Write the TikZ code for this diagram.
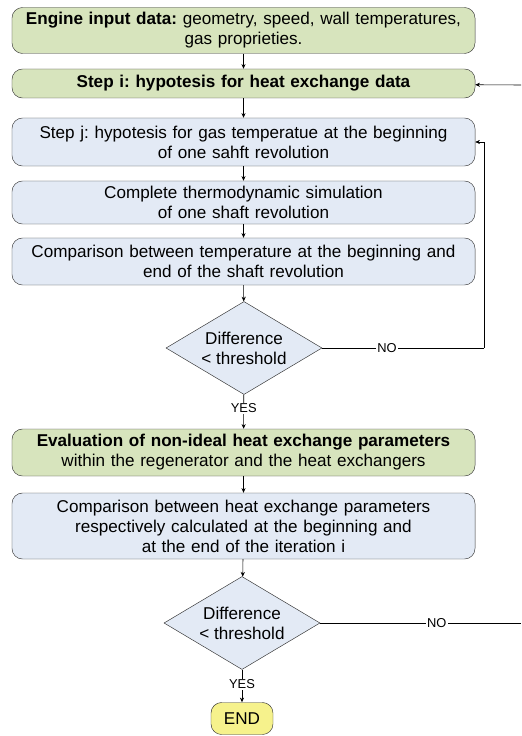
\documentclass[tikz,border=0pt]{standalone}
\usepackage{fontspec}
\setmainfont{Liberation Sans}
\usetikzlibrary{shapes.geometric,arrows.meta}
\definecolor{boxgreen}{HTML}{D7E4BD}
\definecolor{boxblue}{HTML}{E3EAF5}
\definecolor{boxyellow}{HTML}{F6F28C}
\definecolor{boxline}{HTML}{333333}
\frenchspacing

\begin{document}
\begin{tikzpicture}[x=0.03cm,y=-0.03cm,
    font=\fontsize{14.6}{17}\selectfont,
    block/.style={draw=boxline,rounded corners=9pt,align=center,text width=13.6cm,
                  minimum width=13.89cm,inner sep=1pt},
    greenbox/.style={block,fill=boxgreen},
    bluebox/.style={block,fill=boxblue},
    decision/.style={draw=boxline,diamond,fill=boxblue,align=center,inner sep=0pt,
                     aspect=1.68,minimum width=4.68cm,minimum height=2.79cm},
    endbox/.style={draw=boxline,rounded corners=9pt,fill=boxyellow,
                   minimum width=1.86cm,minimum height=0.96cm},
    tag/.style={font=\fontsize{11}{13}\selectfont,fill=white,inner sep=1pt},
    line/.style={draw=black,line width=0.5pt},
    arrow/.style={line,-{Stealth[length=4pt,width=3.5pt]}}]
  %\draw[help lines] (0,0) grid (521,736);
  \useasboundingbox (0,0) rectangle (521,736);
  \node[greenbox,minimum height=1.38cm] (input) at (243.5,30.5)
    {\textbf{Engine input data:} geometry, speed, wall temperatures,\\ gas proprieties.};
  \node[greenbox,minimum height=0.87cm] (stepi) at (243.5,83.5)
    {\textbf{Step i: hypotesis for heat exchange data}};
  \node[bluebox,minimum height=1.44cm] (stepj) at (243.5,142)
    {Step j: hypotesis for gas temperatue at the beginning\\ of one sahft revolution};
  \node[bluebox,minimum height=1.29cm] (sim) at (243.5,202.5)
    {Complete thermodynamic simulation\\ of one shaft revolution};
  \node[bluebox,minimum height=1.41cm] (comp) at (243.5,261.5)
    {Comparison between temperature at the beginning and\\ end of the shaft revolution};
  \node[decision] (diff1) at (244,348) {Difference\\ < threshold};
  \node[greenbox,minimum height=1.41cm] (eval) at (243.5,452.5)
    {\textbf{Evaluation of non-ideal heat exchange parameters}\\ within the regenerator and the heat exchangers};
  \node[bluebox,minimum height=1.98cm] (comp2) at (243.5,526)
    {Comparison between heat exchange parameters\\ respectively calculated at the beginning and\\ at the end of the iteration i};
  \node[decision] (diff2) at (242,623) {Difference\\ < threshold};
  \node[endbox] (end) at (242,718.5) {END};

  \coordinate (loopj) at (484,348);
  \coordinate (loopi) at (521,85);
  \coordinate (outi) at (521,623);

  \draw[arrow] (input) -- (stepi);
  \draw[arrow] (stepi) -- (stepj);
  \draw[arrow] (stepj) -- (sim);
  \draw[arrow] (sim) -- (comp);
  \draw[arrow] (comp) -- (diff1);
  \draw[line] (diff1.east) -- node[tag,pos=0.4]{NO} (loopj);
  \draw[arrow] (loopj) |- (stepj.east);
  \draw[arrow] (diff1) -- node[tag,pos=0.4]{YES} (eval);
  \draw[arrow] (eval) -- (comp2);
  \draw[arrow] (comp2) -- (diff2);
  \draw[line] (diff2.east) -- node[tag,pos=0.58]{NO} (outi);
  \draw[arrow] (loopi) -- (stepi);
  \draw[arrow] (diff2) -- node[tag,pos=0.45]{YES} (end);
\end{tikzpicture}
\end{document}
